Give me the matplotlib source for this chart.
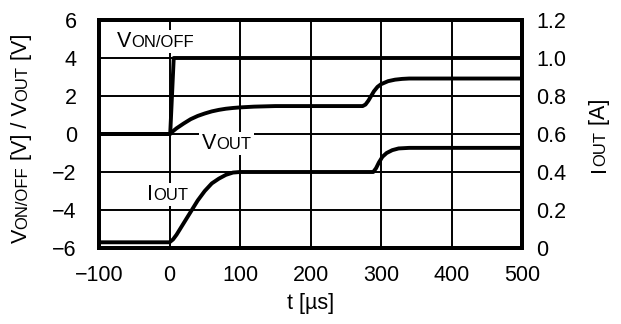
import matplotlib
matplotlib.use("Agg")
import matplotlib.pyplot as plt
from matplotlib.patches import Rectangle

plt.rcParams['font.family'] = ['Liberation Sans', 'DejaVu Sans']

# time points [us] and values
t_on = [-100, 1, 6, 500]
v_on = [0, 0, 4, 4]

t_vout = [-100, 0, 10, 20, 30, 40, 50, 60, 70, 80, 90, 100, 120, 150, 274,
          278, 282, 286, 290, 295, 300, 310, 320, 330, 340, 500]
v_vout = [0, 0, 0.3, 0.55, 0.78, 0.95, 1.08, 1.19, 1.27, 1.33, 1.37, 1.40, 1.44, 1.47, 1.47,
          1.55, 1.75, 2.0, 2.25, 2.48, 2.62, 2.78, 2.86, 2.9, 2.92, 2.92]

t_iout = [-100, 0, 5, 10, 15, 20, 30, 40, 50, 60, 70, 80, 90, 100, 289,
          293, 297, 302, 308, 316, 325, 340, 500]
i_iout = [0.03, 0.03, 0.045, 0.07, 0.10, 0.13, 0.19, 0.25, 0.30, 0.34, 0.365, 0.385, 0.397, 0.40, 0.40,
          0.42, 0.45, 0.48, 0.50, 0.515, 0.524, 0.527, 0.527]

x_ticks = [-100, 0, 100, 200, 300, 400, 500]
left_ticks = [-6, -4, -2, 0, 2, 4, 6]
right_ticks = [0, 0.2, 0.4, 0.6, 0.8, 1.0, 1.2]
right_labels = ['0', '0.2', '0.4', '0.6', '0.8', '1.0', '1.2']

W, H = 621, 324
fig = plt.figure(figsize=(W / 100, H / 100), dpi=100)
ax = fig.add_axes([99 / W, 1 - 248 / H, 423 / W, 228 / H])
ax2 = ax.twinx()

ax.plot(t_on, v_on, color='black', lw=2.8, zorder=3)
ax.plot(t_vout, v_vout, color='black', lw=2.8, zorder=3)
ax2.plot(t_iout, i_iout, color='black', lw=2.8, zorder=3)

ax.set_xlim(-100, 500)
ax.set_ylim(-6, 6)
ax2.set_ylim(0, 1.2)
ax.set_xticks(x_ticks)
ax.set_xticklabels([str(v).replace('-', '\u2212') for v in x_ticks])
ax.set_yticks(left_ticks)
ax.set_yticklabels([str(v).replace('-', '\u2212') for v in left_ticks])
ax2.set_yticks(right_ticks)
ax2.set_yticklabels(right_labels)
ax.grid(True, color='black', lw=1.4)
ax.set_axisbelow(True)

BIG, SMALL = 15.5, 12

ax.tick_params(axis='both', length=0, labelsize=BIG)
ax.tick_params(axis='y', pad=16)
ax.tick_params(axis='x', pad=12)
ax2.tick_params(axis='y', length=0, labelsize=BIG, pad=10)
for a in (ax, ax2):
    for sp in a.spines.values():
        sp.set_linewidth(2.8)

fig.canvas.draw()
renderer = fig.canvas.get_renderer()


def rich(x, y, parts, rot=0, box=False):
    # x, y in image pixels (from top-left), start of baseline
    x, y = x, H - y
    boxes = []
    for s, size in parts:
        t = fig.text(x / W, y / H, s, fontsize=size, rotation=rot,
                     rotation_mode='anchor', ha='left', va='baseline', zorder=5)
        bb = t.get_window_extent(renderer)
        boxes.append(bb)
        if rot == 0:
            x = bb.x1
        else:
            y = bb.y1
    if box:
        x0 = min(b.x0 for b in boxes) - 3
        x1 = max(b.x1 for b in boxes) + 3
        y0 = min(b.y0 for b in boxes) - 1
        y1 = max(b.y1 for b in boxes) + 1
        fig.patches.append(Rectangle((x0 / W, y0 / H), (x1 - x0) / W, (y1 - y0) / H,
                                     transform=fig.transFigure, facecolor='white',
                                     edgecolor='none', zorder=4))


rich(117, 47, [('V', BIG), ('ON/OFF', SMALL)], box=True)
rich(202, 149, [('V', BIG), ('OUT', SMALL)], box=True)
rich(147, 200, [('I', BIG), ('OUT', SMALL)], box=True)
rich(27, 243, [('V', BIG), ('ON/OFF', SMALL), (' [V] / V', BIG), ('OUT', SMALL), (' [V]', BIG)], rot=90)
rich(605, 172, [('I', BIG), ('OUT', SMALL), (' [A]', BIG)], rot=90)
fig.text(311 / W, 1 - 309 / H, 't [\u00b5s]', fontsize=BIG, ha='center', va='baseline')

fig.savefig('out.png', dpi=100)
